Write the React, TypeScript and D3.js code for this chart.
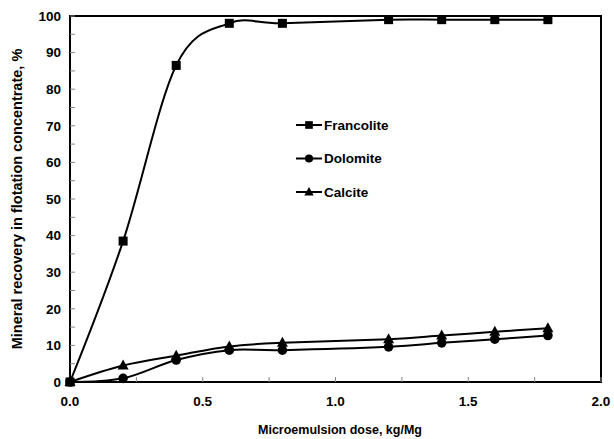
import React from 'react';
import * as d3 from 'd3';

const doses = [0, 0.2, 0.4, 0.6, 0.8, 1.2, 1.4, 1.6, 1.8];
const francolite = [0, 38.5, 86.5, 98, 98, 99, 99, 99, 99];
const dolomite = [0, 1, 6, 8.7, 8.7, 9.6, 10.7, 11.7, 12.7];
const calcite = [0, 4.5, 7.2, 9.7, 10.7, 11.7, 12.7, 13.7, 14.7];
const seriesNames = ['Francolite', 'Dolomite', 'Calcite'];
const xTicks = [0, 0.5, 1.0, 1.5, 2.0];
const yTicks = [0, 10, 20, 30, 40, 50, 60, 70, 80, 90, 100];

export default function App() {
  const width = 614;
  const height = 439;
  const margin = { top: 16, right: 13, bottom: 57, left: 70 };

  const x = d3.scaleLinear().domain([0, 2]).range([margin.left, width - margin.right]);
  const y = d3.scaleLinear().domain([0, 100]).range([height - margin.bottom, margin.top]);

  const line = d3.line<[number, number]>()
    .x(d => x(d[0]))
    .y(d => y(d[1]))
    .curve(d3.curveCardinal.tension(0));

  const allSeries = [francolite, dolomite, calcite];
  const font = '"Liberation Sans", Arial, sans-serif';

  // marker shapes: square, circle, triangle
  function marker(kind: number, cx: number, cy: number, key: string, s = 1) {
    if (kind === 0) return <rect key={key} x={cx - 4.5 * s} y={cy - 4.5 * s} width={9 * s} height={9 * s} fill="#000" />;
    if (kind === 1) return <circle key={key} cx={cx} cy={cy} r={4.8 * s} fill="#000" />;
    return <path key={key} d={`M${cx},${cy - 6 * s}L${cx + 5.5 * s},${cy + 4 * s}L${cx - 5.5 * s},${cy + 4 * s}Z`} fill="#000" />;
  }

  const minorY = d3.range(0, 101, 5);
  const minorX = d3.range(0, 2.01, 0.25);

  return (
    <svg width={width} height={height} style={{ position: 'absolute', left: 0, top: 0 }}>
      <rect width={width} height={height} fill="#fff" />
      <rect x={margin.left} y={margin.top} width={x(2) - x(0)} height={y(0) - y(100)}
        fill="none" stroke="#000" strokeWidth={2} />
      {minorY.map(v => (
        <line key={'yt' + v} x1={x(0)} x2={x(0) + 5} y1={y(v)} y2={y(v)} stroke="#888" strokeWidth={1} />
      ))}
      {minorX.map(v => (
        <line key={'xt' + v} x1={x(v)} x2={x(v)} y1={y(0)} y2={y(0) - 5} stroke="#888" strokeWidth={1} />
      ))}
      {yTicks.map(v => (
        <text key={'yl' + v} x={x(0) - 9} y={y(v)} dy="0.36em" textAnchor="end"
          fontFamily={font} fontWeight="bold" fontSize={13.5}>{v}</text>
      ))}
      {xTicks.map(v => (
        <text key={'xl' + v} x={x(v)} y={y(0) + 24} textAnchor="middle"
          fontFamily={font} fontWeight="bold" fontSize={13.5}>{v.toFixed(1)}</text>
      ))}
      {allSeries.map((s, i) => (
        <g key={'s' + i}>
          <path d={line(doses.map((d, j) => [d, s[j]] as [number, number])) || ''}
            fill="none" stroke="#000" strokeWidth={2} />
          {doses.map((d, j) => marker(i, x(d), y(s[j]), 'm' + i + '-' + j))}
        </g>
      ))}
      {seriesNames.map((n, i) => {
        const ly = 125 + i * 33.5;
        return (
          <g key={'lg' + i}>
            <line x1={296} x2={322} y1={ly} y2={ly} stroke="#000" strokeWidth={2} />
            {marker(i, 309, ly, 'lm' + i, 0.85)}
            <text x={324} y={ly} dy="0.36em" fontFamily={font} fontWeight="bold" fontSize={13.5}>{n}</text>
          </g>
        );
      })}
      <text x={340} y={434} textAnchor="middle"
        fontFamily={font} fontWeight="bold" fontSize={12.5}>Microemulsion dose, kg/Mg</text>
      <text transform={`translate(22,${(y(0) + y(100)) / 2}) rotate(-90)`} textAnchor="middle"
        fontFamily={font} fontWeight="bold" fontSize={14.5}>Mineral recovery in flotation concentrate, %</text>
    </svg>
  );
}
